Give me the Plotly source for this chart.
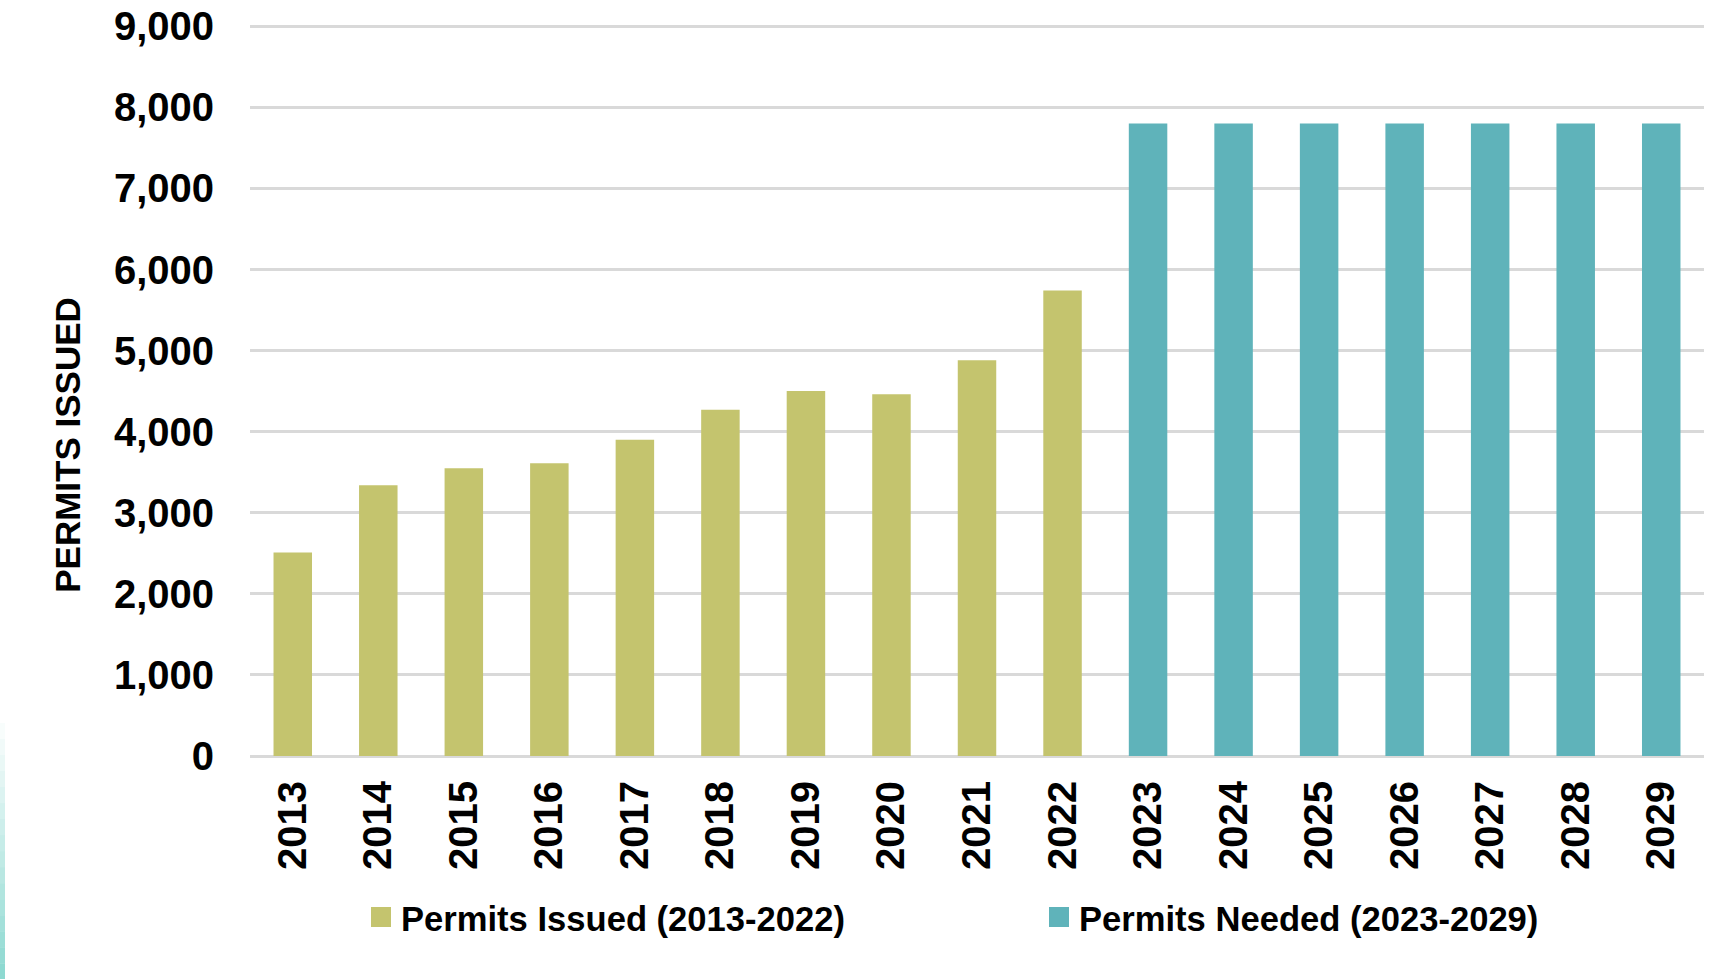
import plotly.graph_objects as go

years_issued = ["2013", "2014", "2015", "2016", "2017", "2018", "2019", "2020", "2021", "2022"]
permits_issued = [2510, 3340, 3550, 3610, 3900, 4270, 4500, 4460, 4880, 5740]

years_needed = ["2023", "2024", "2025", "2026", "2027", "2028", "2029"]
permits_needed = [7800, 7800, 7800, 7800, 7800, 7800, 7800]

all_years = years_issued + years_needed
y_ticks = [0, 1000, 2000, 3000, 4000, 5000, 6000, 7000, 8000, 9000]

name_issued = "Permits Issued (2013-2022)"
name_needed = "Permits Needed (2023-2029)"
y_title = "PERMITS ISSUED"

OLIVE = "#C4C46E"
TEAL = "#5FB3BA"
FONT = "Liberation Sans, Arial, sans-serif"

# plot area geometry (pixels)
PL, PR = 250, 1704
Y0 = 756
PH = 9.04 * 81.03
PW = PR - PL


def px_x(x):
    return (x - PL) / PW


def px_y(y):
    return (Y0 - y) / PH


fig = go.Figure()
fig.add_trace(go.Bar(x=years_issued, y=permits_issued, name=name_issued,
                     marker=dict(color=OLIVE, line=dict(width=0)), width=0.45,
                     showlegend=False))
fig.add_trace(go.Bar(x=years_needed, y=permits_needed, name=name_needed,
                     marker=dict(color=TEAL, line=dict(width=0)), width=0.45,
                     showlegend=False))
# legend entries with larger square swatches
fig.add_trace(go.Scatter(x=[None], y=[None], mode="markers", name=name_issued,
                         marker=dict(symbol="square", size=16, color=OLIVE,
                                     line=dict(color=OLIVE, width=4))))
fig.add_trace(go.Scatter(x=[None], y=[None], mode="markers", name=name_needed,
                         marker=dict(symbol="square", size=16, color=TEAL,
                                     line=dict(color=TEAL, width=4))))

# faint gradient strip on left edge
n = 16
top, bot = 723, 979
for i in range(n):
    ya = top + (bot - top) * i / n
    yb = top + (bot - top) * (i + 1) / n
    fig.add_shape(type="rect", xref="paper", yref="paper",
                  x0=px_x(0), x1=px_x(5), y0=px_y(yb), y1=px_y(ya),
                  fillcolor="#8ED9D1", opacity=(i + 1) / n,
                  line=dict(width=0), layer="below")

fig.add_annotation(text=y_title, xref="paper", yref="paper",
                   x=px_x(68), y=px_y(445),
                   xanchor="center", yanchor="middle", textangle=-90,
                   showarrow=False,
                   font=dict(family=FONT, size=35, color="#000000", weight="bold"))

fig.update_layout(
    width=1729, height=979,
    margin=dict(l=PL, r=1729 - PR, t=Y0 - PH, b=979 - Y0, autoexpand=False),
    paper_bgcolor="white", plot_bgcolor="white",
    barmode="overlay",
    font=dict(family=FONT, color="#000000"),
    legend=dict(orientation="h", x=px_x(361), xanchor="left",
                y=px_y(917), yanchor="middle",
                entrywidth=633, entrywidthmode="pixels",
                font=dict(family=FONT, size=34.6, color="#000000", weight="bold"),
                bgcolor="rgba(0,0,0,0)", borderwidth=0, itemclick=False),
    xaxis=dict(type="category", categoryorder="array", categoryarray=all_years,
               tickangle=-90, showgrid=False, showline=False, ticks="",
               ticklabelstandoff=16,
               tickfont=dict(family=FONT, size=40, color="#000000", weight="bold"),
               range=[-0.5, len(all_years) - 0.5], fixedrange=True),
    yaxis=dict(range=[0, 9040], tickvals=y_ticks, tickformat=",d",
               showgrid=True, gridcolor="#D9D9D9", gridwidth=2.5,
               zeroline=True, zerolinecolor="#D9D9D9", zerolinewidth=2.5,
               showline=False, ticks="", ticklabelstandoff=35,
               tickfont=dict(family=FONT, size=40, color="#000000", weight="bold"),
               fixedrange=True),
)

fig.write_html("out.html", config={"displayModeBar": False},
               post_script="document.body.style.margin='0px';document.body.style.padding='0px';")
